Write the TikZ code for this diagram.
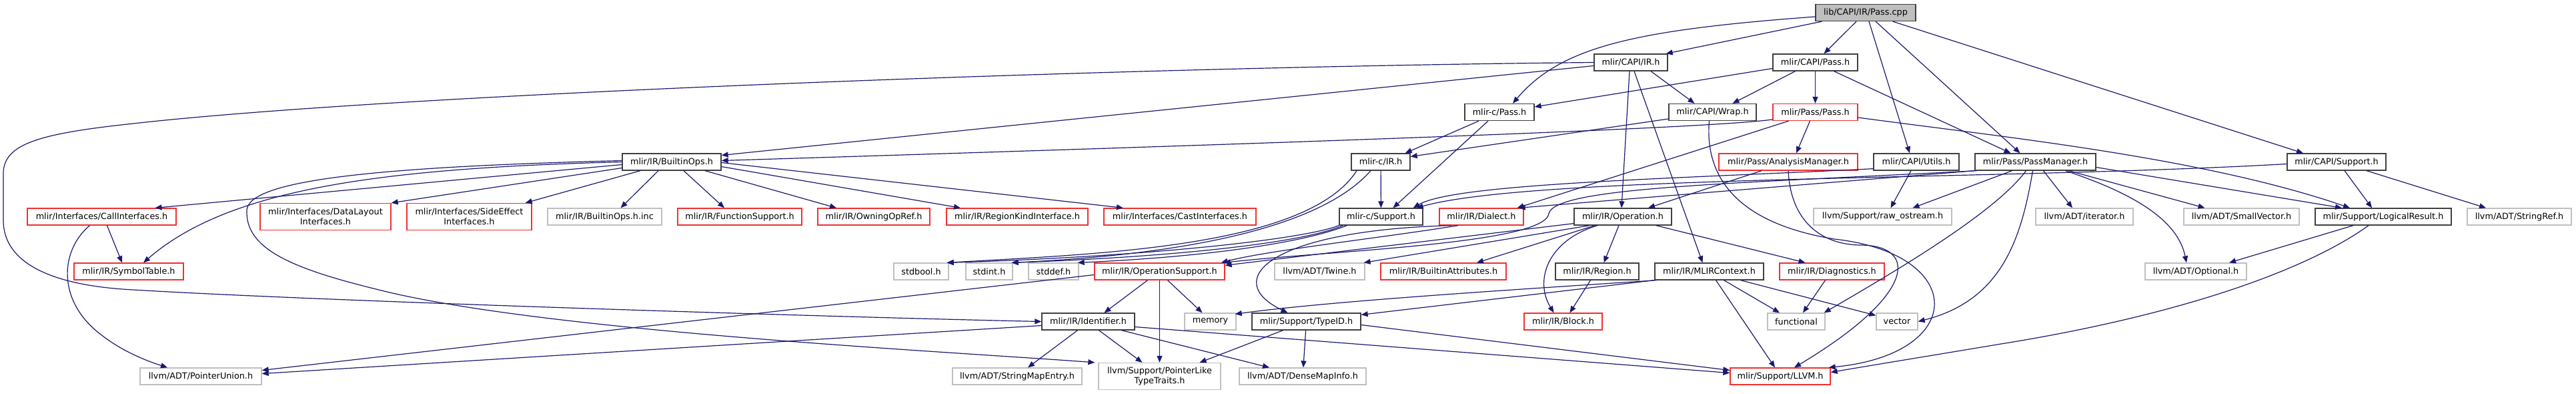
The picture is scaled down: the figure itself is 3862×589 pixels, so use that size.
\documentclass[tikz,border=0pt]{standalone}
\usepackage{fontspec}
\newfontfamily\dvs{DejaVu Sans}
\usetikzlibrary{arrows.meta}
\definecolor{edgeblue}{HTML}{191970}
\definecolor{rednode}{HTML}{F03030}
\definecolor{graynode}{HTML}{BFBFBF}
\definecolor{blknode}{HTML}{404040}
\definecolor{rootfill}{HTML}{BFBFBF}
\begin{document}
\begin{tikzpicture}[x=1pt,y=-1pt,
  nd/.style={draw, line width=1.3pt, inner sep=0pt, minimum height=25pt,
    font=\dvs\fontsize{12.8pt}{15pt}\selectfont, align=center, fill=white, text=black},
  blk/.style={nd, draw=blknode},
  rnd/.style={nd, draw=rednode},
  gnd/.style={nd, draw=graynode},
  root/.style={nd, draw=blknode, fill=rootfill},
  two/.style={minimum height=40pt},
  dep/.style={draw=edgeblue, line width=1.2pt, -{Triangle[length=10pt,width=8pt]}}]
\useasboundingbox (0,0) rectangle (3862,589);
% row 0-2
\node[root, minimum width=150pt] (pcpp) at (2797,19) {lib/CAPI/IR/Pass.cpp};
\node[blk, minimum width=110pt] (capiir) at (2445,93.5) {mlir/CAPI/IR.h};
\node[blk, minimum width=127pt] (capipass) at (2721.5,93.5) {mlir/CAPI/Pass.h};
\node[blk, minimum width=104pt] (cpass) at (2248,168) {mlir-c/Pass.h};
\node[blk, minimum width=131pt] (wrap) at (2567.5,168) {mlir/CAPI/Wrap.h};
\node[rnd, minimum width=127pt] (passpass) at (2721.5,168) {mlir/Pass/Pass.h};
% row 3
\node[blk, minimum width=148pt] (builtinops) at (1007,242.5) {mlir/IR/BuiltinOps.h};
\node[blk, minimum width=88pt] (cir) at (2070,242.5) {mlir-c/IR.h};
\node[rnd, minimum width=208pt] (analysis) at (2681,242.5) {mlir/Pass/AnalysisManager.h};
\node[blk, minimum width=128pt] (utils) at (2873,242.5) {mlir/CAPI/Utils.h};
\node[blk, minimum width=181pt] (passmgr) at (3051.5,242.5) {mlir/Pass/PassManager.h};
\node[blk, minimum width=148pt] (capisupport) at (3503,242.5) {mlir/CAPI/Support.h};
% row 4
\node[rnd, minimum width=223pt] (callif) at (152.5,324.5) {mlir/Interfaces/CallInterfaces.h};
\node[rnd, two, minimum width=196pt] (datalayout) at (488,324.5) {mlir/Interfaces/DataLayout\\Interfaces.h};
\node[rnd, two, minimum width=187pt] (sideeffect) at (703.5,324.5) {mlir/Interfaces/SideEffect\\Interfaces.h};
\node[gnd, minimum width=171pt] (opsinc) at (906.5,324.5) {mlir/IR/BuiltinOps.h.inc};
\node[rnd, minimum width=186pt] (funcsupport) at (1109,324.5) {mlir/IR/FunctionSupport.h};
\node[rnd, minimum width=168pt] (owning) at (1310,324.5) {mlir/IR/OwningOpRef.h};
\node[rnd, minimum width=212pt] (regionkind) at (1525,324.5) {mlir/IR/RegionKindInterface.h};
\node[rnd, minimum width=228pt] (castif) at (1769,324.5) {mlir/Interfaces/CastInterfaces.h};
\node[blk, minimum width=125pt] (csupport) at (2070.5,324.5) {mlir-c/Support.h};
\node[rnd, minimum width=126pt] (dialect) at (2221,324.5) {mlir/IR/Dialect.h};
\node[blk, minimum width=146pt] (operation) at (2433,324.5) {mlir/IR/Operation.h};
\node[gnd, minimum width=207pt] (rawostream) at (2822.5,324.5) {llvm/Support/raw\_ostream.h};
\node[gnd, minimum width=146pt] (iterator) at (3125,324.5) {llvm/ADT/iterator.h};
\node[gnd, minimum width=173pt] (smallvec) at (3360.5,324.5) {llvm/ADT/SmallVector.h};
\node[blk, minimum width=204pt] (logical) at (3573,324.5) {mlir/Support/LogicalResult.h};
\node[gnd, minimum width=156pt] (stringref) at (3777,324.5) {llvm/ADT/StringRef.h};
% row 5
\node[rnd, minimum width=164pt] (symtable) at (193,406.5) {mlir/IR/SymbolTable.h};
\node[gnd, minimum width=82pt] (stdbool) at (1381,406.5) {stdbool.h};
\node[gnd, minimum width=70pt] (stdint) at (1483,406.5) {stdint.h};
\node[gnd, minimum width=75pt] (stddef) at (1579.5,406.5) {stddef.h};
\node[rnd, minimum width=195pt] (opsupport) at (1738.5,406.5) {mlir/IR/OperationSupport.h};
\node[gnd, minimum width=135pt] (twine) at (1978.5,406.5) {llvm/ADT/Twine.h};
\node[rnd, minimum width=188pt] (battrs) at (2164,406.5) {mlir/IR/BuiltinAttributes.h};
\node[blk, minimum width=125pt] (region) at (2394.5,406.5) {mlir/IR/Region.h};
\node[blk, minimum width=163pt] (mlirctx) at (2562.5,406.5) {mlir/IR/MLIRContext.h};
\node[rnd, minimum width=157pt] (diagnostics) at (2746.5,406.5) {mlir/IR/Diagnostics.h};
\node[gnd, minimum width=152pt] (optional) at (3292,406.5) {llvm/ADT/Optional.h};
% row 6
\node[blk, minimum width=139pt] (identifier) at (1631.5,481.5) {mlir/IR/Identifier.h};
\node[gnd, minimum width=77pt] (memory) at (1814.5,481.5) {memory};
\node[blk, minimum width=163pt] (typeid) at (1958.5,481.5) {mlir/Support/TypeID.h};
\node[rnd, minimum width=117pt] (block) at (2343.5,481.5) {mlir/IR/Block.h};
\node[gnd, minimum width=86pt] (functional) at (2693,481.5) {functional};
\node[gnd, minimum width=62pt] (vector) at (2844,481.5) {vector};
% row 7
\node[gnd, minimum width=182pt] (ptrunion) at (301,563.5) {llvm/ADT/PointerUnion.h};
\node[gnd, minimum width=194pt] (smapentry) at (1525,563.5) {llvm/ADT/StringMapEntry.h};
\node[gnd, two, minimum width=183pt] (ptrlike) at (1738.5,563.5) {llvm/Support/PointerLike\\TypeTraits.h};
\node[gnd, minimum width=190pt] (densemap) at (1953,563.5) {llvm/ADT/DenseMapInfo.h};
\node[rnd, minimum width=150pt] (llvmh) at (2669,563.5) {mlir/Support/LLVM.h};

% ---- edges from Pass.cpp
\draw[dep] ([xshift=10pt]pcpp.south west) -- ([xshift=-3pt]capiir.north east);
\draw[dep] ([yshift=-6pt]pcpp.west) .. controls (2450,45) and (2340,70) .. ([xshift=20pt]cpass.north);
\draw[dep] ([xshift=-14pt]pcpp.south) -- ([xshift=13pt]capipass.north);
\draw[dep] ([xshift=5pt]pcpp.south) -- ([xshift=-10pt]utils.north);
\draw[dep] ([xshift=15pt]pcpp.south) -- ([xshift=-23pt]passmgr.north);
\draw[dep] ([xshift=-35pt]pcpp.south east) -- ([xshift=-50pt]capisupport.north);
% ---- CAPI/IR.h
\draw[dep] ([xshift=30pt]capiir.south) -- ([xshift=-27pt]wrap.north);
\draw[dep] ([yshift=-5pt]capiir.west) -- ([yshift=10pt]builtinops.east);
\draw[dep] (capiir.west) .. controls (1700,100) and (600,140) .. (200,185)
   .. controls (60,200) and (5,215) .. (5,260) -- (5,330)
   .. controls (5,395) and (80,428) .. (200,434)
   .. controls (500,452) and (1300,476) .. (identifier.west);
\draw[dep] ([xshift=-2pt]capiir.south) -- ([xshift=-2pt]operation.north);
\draw[dep] ([xshift=5pt]capiir.south) -- ([xshift=-10pt]mlirctx.north);
% ---- CAPI/Pass.h
\draw[dep] ([yshift=-9pt]capipass.west) -- ([yshift=8pt]cpass.east);
\draw[dep] ([xshift=-30pt]capipass.south) -- ([xshift=30pt]wrap.north);
\draw[dep] (capipass) -- (passpass);
\draw[dep] ([xshift=28pt]capipass.south) -- ([xshift=-37pt]passmgr.north);
% ---- mlir-c/Pass.h, Wrap.h
\draw[dep] ([xshift=-31pt]cpass.south) -- ([xshift=-8pt]cir.north east);
\draw[dep] ([xshift=-17pt]cpass.south) -- ([xshift=18pt]csupport.north);
\draw[dep] ([yshift=-10pt]wrap.west) -- ([yshift=8pt]cir.east);
\draw[dep] ([xshift=-5pt]wrap.south) .. controls (2555,270) and (2610,335) .. (2750,358)
   .. controls (2950,380) and (2950,530) .. ([xshift=-3pt]llvmh.north east);
% ---- Pass/Pass.h
\draw[dep] ([yshift=-11pt]passpass.west) .. controls (2560,192) and (2000,212) .. ([yshift=2pt]builtinops.east);
\draw[dep] ([xshift=-8pt]passpass.south) -- ([xshift=12pt]analysis.north);
\draw[dep] ([xshift=-40pt]passpass.south) -- ([xshift=-10pt]dialect.north east);
\draw[dep] ([yshift=-8pt]passpass.east) .. controls (3000,205) and (3300,235) .. ([xshift=-50pt]logical.north);
% ---- mlir-c/IR.h, mlir-c/Support.h
\draw[dep] (cir) -- (csupport);
\draw[dep] ([xshift=-36pt]cir.south) .. controls (1960,370) and (1650,380) .. ([xshift=-3pt]stdbool.north east);
\draw[dep] ([xshift=-15pt]cir.south) .. controls (1985,335) and (1800,380) .. ([xshift=-2pt]stdint.north east);
\draw[dep] (csupport.south west) .. controls (1950,360) and (1700,385) .. ([xshift=-3pt]stdbool.north east);
\draw[dep] ([xshift=6pt]csupport.south west) .. controls (1950,365) and (1750,385) .. ([xshift=-2pt]stdint.north east);
\draw[dep] ([xshift=12pt]csupport.south west) .. controls (1950,365) and (1800,385) .. ([xshift=-2pt]stddef.north east);
% ---- AnalysisManager
\draw[dep] ([xshift=-40pt]analysis.south) -- ([xshift=38pt]operation.north);
\draw[dep] (analysis.south) .. controls (2685,340) and (2740,367) .. (2790,367)
   .. controls (2875,368) and (2875,440) .. ([xshift=21pt]llvmh.north);
% ---- Utils
\draw[dep] ([yshift=3pt]utils.south west) .. controls (2500,268) and (2180,275) .. ([xshift=-15pt]csupport.north east);
\draw[dep] ([xshift=-8pt]utils.south) -- ([xshift=12pt]rawostream.north);
% ---- PassManager
\draw[dep] (passmgr.south west) -- ([xshift=-8pt]dialect.north east);
\draw[dep] ([xshift=3pt]passmgr.south west) .. controls (2600,275) and (2330,280) .. (2322,320)
   .. controls (2315,365) and (2000,375) .. ([xshift=-2pt]opsupport.north east);
\draw[dep] ([xshift=-35pt]passmgr.south) -- ([xshift=45pt]rawostream.north);
\draw[dep] ([xshift=-14pt]passmgr.south) .. controls (2990,320) and (2835,410) .. ([xshift=-2pt]functional.north east);
\draw[dep] ([xshift=-4pt]passmgr.south) .. controls (3030,360) and (3000,450) .. (vector.east);
\draw[dep] ([xshift=12pt]passmgr.south) -- ([xshift=-18pt]iterator.north);
\draw[dep] ([xshift=50pt]passmgr.south) -- ([xshift=-55pt]smallvec.north);
\draw[dep] ([xshift=45pt]passmgr.south) .. controls (3200,290) and (3265,330) .. ([xshift=-14pt]optional.north);
\draw[dep] ([yshift=-8pt]passmgr.east) -- ([xshift=-62pt]logical.north);
% ---- CAPI/Support.h
\draw[dep] ([yshift=-3pt]capisupport.west) .. controls (3000,270) and (2300,262) .. ([xshift=-10pt]csupport.north east);
\draw[dep] ([xshift=12pt]capisupport.south) -- ([xshift=-17pt]logical.north);
\draw[dep] ([xshift=45pt]capisupport.south) -- ([xshift=-50pt]stringref.north);
% ---- BuiltinOps.h
\draw[dep] ([yshift=-4pt]builtinops.west) -- ([xshift=80pt]callif.north);
\draw[dep] (builtinops.west) .. controls (560,252) and (340,285) .. ([xshift=22pt]symtable.north);
\draw[dep] ([yshift=2pt]builtinops.west) .. controls (560,250) and (372,270) .. (370,315)
   .. controls (368,370) and (430,400) .. (560,432)
   .. controls (800,495) and (1400,525) .. ([xshift=-5pt]ptrlike.north west);
\draw[dep] ([yshift=-9pt]builtinops.west) -- (datalayout.north east);
\draw[dep] ([xshift=-47pt]builtinops.south) -- ([xshift=-10pt]sideeffect.north east);
\draw[dep] ([xshift=-20pt]builtinops.south) -- ([xshift=24pt]opsinc.north);
\draw[dep] ([xshift=18pt]builtinops.south) -- ([xshift=-23pt]funcsupport.north);
\draw[dep] ([xshift=50pt]builtinops.south) -- ([xshift=-56pt]owning.north);
\draw[dep] ([yshift=-7pt]builtinops.east) -- ([xshift=-85pt]regionkind.north);
\draw[dep] ([yshift=-1pt]builtinops.east) -- ([xshift=-85pt]castif.north);
% ---- CallInterfaces
\draw[dep] ([xshift=8pt]callif.south) -- ([xshift=-10pt]symtable.north);
\draw[dep] ([xshift=-18pt]callif.south) .. controls (90,375) and (85,450) .. (150,500)
   .. controls (185,528) and (225,542) .. ([xshift=-50pt]ptrunion.north);
% ---- Dialect
\draw[dep] ([xshift=-35pt]dialect.south) .. controls (2080,355) and (1900,375) .. ([xshift=-6pt]opsupport.north east);
\draw[dep] ([xshift=-45pt]dialect.south) .. controls (1900,345) and (1830,420) .. ([xshift=-28pt]typeid.north);
% ---- Operation
\draw[dep] ([yshift=3pt]operation.south west) -- ([yshift=-4pt]opsupport.north east);
\draw[dep] ([xshift=-50pt]operation.south) -- ([xshift=-2pt]twine.north east);
\draw[dep] ([xshift=-42pt]operation.south) -- ([xshift=50pt]battrs.north);
\draw[dep] ([xshift=-6pt]operation.south) -- ([xshift=10pt]region.north);
\draw[dep] ([xshift=-38pt]operation.south) .. controls (2320,360) and (2300,420) .. ([xshift=-14pt]block.north);
\draw[dep] ([xshift=50pt]operation.south) -- ([xshift=-40pt]diagnostics.north);
% ---- OperationSupport
\draw[dep] ([xshift=-18pt]opsupport.south) -- ([xshift=24pt]identifier.north);
\draw[dep] (opsupport) -- (ptrlike);
\draw[dep] ([xshift=12pt]opsupport.south) -- ([xshift=-12pt]memory.north);
\draw[dep] ([yshift=-5pt]opsupport.west) -- ([yshift=9pt]ptrunion.east);
% ---- Identifier
\draw[dep] ([yshift=-6pt]identifier.west) -- ([yshift=4pt]ptrunion.east);
\draw[dep] ([xshift=-16pt]identifier.south) -- ([xshift=16pt]smapentry.north);
\draw[dep] ([xshift=16pt]identifier.south) -- ([xshift=-26pt]ptrlike.north);
\draw[dep] ([xshift=50pt]identifier.south) -- ([xshift=-50pt]densemap.north);
\draw[dep] ([yshift=-8pt]identifier.east) -- ([yshift=5pt]llvmh.west);
% ---- TypeID
\draw[dep] ([xshift=-35pt]typeid.south) -- ([xshift=60pt]ptrlike.north);
\draw[dep] (typeid) -- (densemap);
\draw[dep] ([yshift=-5pt]typeid.east) -- ([yshift=9pt]llvmh.west);
% ---- MLIRContext
\draw[dep] (mlirctx.south west) -- ([yshift=-3pt]typeid.north east);
\draw[dep] ([xshift=3pt]mlirctx.south west) .. controls (2300,432) and (2000,450) .. ([xshift=-2pt,yshift=-2pt]memory.north east);
\draw[dep] ([xshift=10pt]mlirctx.south) -- ([xshift=-8pt]llvmh.north);
\draw[dep] ([xshift=22pt]mlirctx.south) -- ([xshift=-25pt]functional.north);
\draw[dep] ([xshift=47pt]mlirctx.south) -- ([yshift=-4pt]vector.north west);
% ---- Diagnostics, Region
\draw[dep] ([xshift=-10pt]diagnostics.south) -- ([xshift=10pt]functional.north);
\draw[dep] ([xshift=-10pt]region.south) -- ([xshift=10pt]block.north);
% ---- LogicalResult
\draw[dep] ([xshift=-45pt]logical.south) -- ([xshift=50pt]optional.north);
\draw[dep] ([xshift=-22pt]logical.south) .. controls (3450,410) and (3250,475) .. (3000,515)
   .. controls (2880,535) and (2800,548) .. ([yshift=6pt]llvmh.east);
\end{tikzpicture}
\end{document}
